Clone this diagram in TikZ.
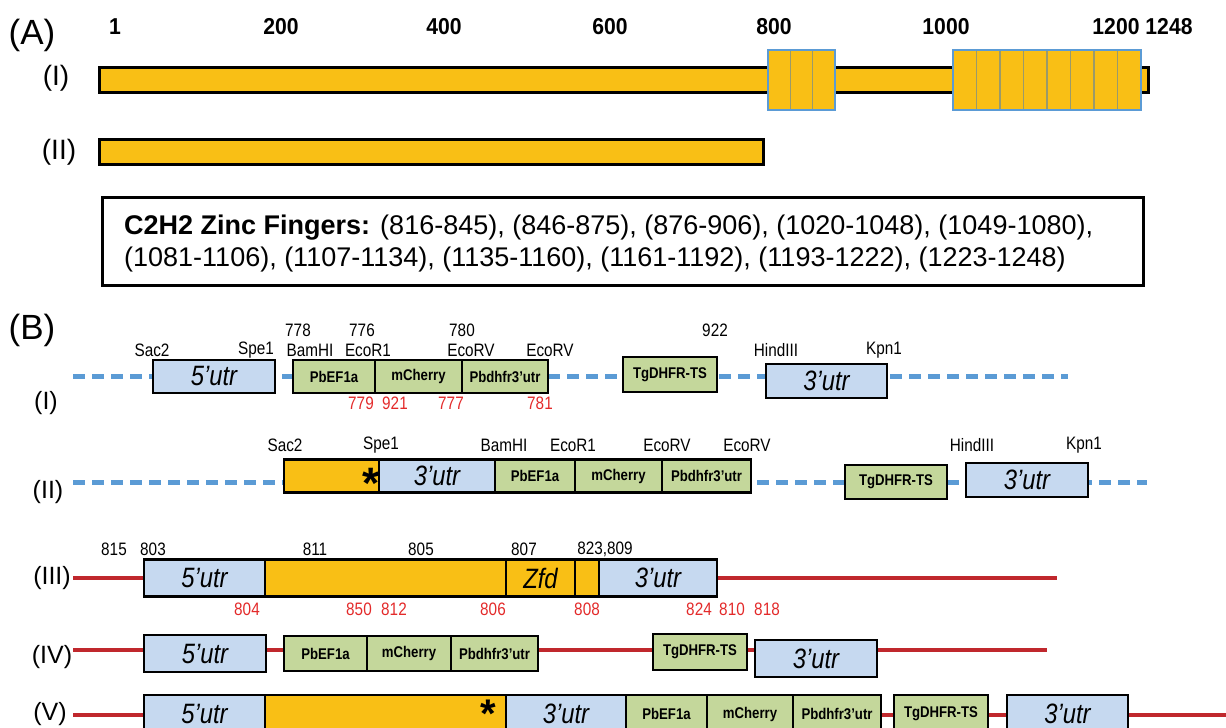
\documentclass[tikz,border=0pt]{standalone}
\usepackage{fontspec}
\setmainfont{Liberation Sans}
\newfontfamily\narrowfont[FakeStretch=0.85]{Liberation Sans}
\newfontfamily\rulerfont[FakeStretch=0.92]{Liberation Sans}
\usetikzlibrary{positioning}
\pgfdeclarelayer{bg}
\pgfsetlayers{bg,main}
\definecolor{GeneGold}{HTML}{F9BF15}
\definecolor{UtrBlue}{HTML}{C6D9F0}
\definecolor{CasGreen}{HTML}{C4D79B}
\definecolor{VecBlue}{HTML}{5B9BD5}
\definecolor{GenoRed}{HTML}{C0282D}
\definecolor{PrimRed}{HTML}{E32A2A}
\definecolor{ZfGrey}{HTML}{9A9A6A}
\tikzset{seg/.style={draw=black,line width=2.6pt,anchor=west,inner sep=0pt,outer sep=0pt,minimum height=33pt},
utr/.style={seg,fill=UtrBlue,font=\fontsize{28}{28}\narrowfont\itshape},
cas/.style={seg,fill=CasGreen,font=\fontsize{15.5}{15.5}\narrowfont\bfseries},
orf/.style={seg,fill=GeneGold},
site/.style={font=\fontsize{18}{18}\narrowfont,inner sep=0pt},
prim/.style={site,text=PrimRed},
tag/.style={font=\fontsize{25}{25}\selectfont,inner sep=0pt},
ruler/.style={font=\fontsize{23}{23}\rulerfont\bfseries,inner sep=0pt},
bar/.style={draw=black,line width=3pt,fill=GeneGold,anchor=west,inner sep=0pt,outer sep=0pt,minimum height=25pt},
zf/.style={draw=VecBlue,line width=2.5pt,fill=GeneGold,anchor=west,inner sep=0pt,outer sep=0pt,minimum height=60pt},
zfline/.style={ZfGrey,line width=1.5pt,shorten <=1.25pt,shorten >=1.25pt},
zftext/.style={font=\fontsize{27}{27}\selectfont,anchor=west,inner sep=0pt},
stopstar/.style={font=\fontsize{44}{44}\selectfont\bfseries,inner sep=0pt,yshift=-9pt},
vec/.style={VecBlue,line width=5pt,dash pattern=on 12pt off 7pt},
geno/.style={GenoRed,line width=4pt}}

\begin{document}
\begin{tikzpicture}[x=1pt,y=-1pt]
\useasboundingbox (0,0) rectangle (1226,728);
% (A) protein
\node[font=\fontsize{35}{35}\selectfont,inner sep=0pt] (labA) at (32,35) {(A)};
\foreach \x/\n in {115/1,281/200,444/400,610/600,774/800,946/1000,1116/1200,1169/1248}
  \node[ruler] (r\n) at (\x,27) {\n};
\node[tag,font=\fontsize{28}{28}\selectfont] (pI) at (56,78) {(I)};
\node[tag,font=\fontsize{28}{28}\selectfont] (pII) at (59,152) {(II)};
\node[bar,minimum width=1049pt] (barI) at (99,80) {};
\node[zf,minimum width=67pt] (zfa) at (768,80) {};
\node[zf,minimum width=188pt] (zfb) at (953,80) {};
\foreach \i in {1,2}
  \draw[zfline] ([xshift=\i*22.33pt]zfa.north west) -- ([xshift=\i*22.33pt]zfa.south west);
\foreach \i in {1,...,7}
  \draw[zfline] ([xshift=\i*23.5pt]zfb.north west) -- ([xshift=\i*23.5pt]zfb.south west);
\node[bar,minimum width=664pt] (barII) at (99,152) {};
\node[draw=black,line width=3pt,anchor=north west,inner sep=0pt,minimum width=1041pt,minimum height=88pt] (zfbox) at (101,196) {};
\node[zftext] (zf1) at (124,228) {\textbf{C2H2 Zinc Fingers:} (816-845), (846-875), (876-906), (1020-1048), (1049-1080),};
\node[zftext] (zf2) at (124,260) {(1081-1106), (1107-1134), (1135-1160), (1161-1192), (1193-1222), (1223-1248)};
% (B) constructs
\node[font=\fontsize{35}{35}\selectfont,inner sep=0pt] (labB) at (32,330) {(B)};
% row I
\node[tag] (tI) at (46,403) {(I)};
\node[utr,minimum width=122pt] (I5) at (153,376.5) {5’utr};
\node[cas,minimum width=82pt] (IPb) at (293,376.5) {PbEF1a};
\node[cas,minimum width=87pt,right=0pt of IPb] (IMc) {mCherry};
\node[cas,minimum width=86pt,right=0pt of IMc] (IDh) {Pbdhfr3’utr};
\node[cas,minimum width=94pt,minimum height=35pt] (ITg) at (623,374.5) {TgDHFR-TS};
\node[utr,minimum width=121pt,minimum height=34pt] (I3) at (766,381) {3’utr};
\coordinate (Ia) at (73,376);
\coordinate (Ib) at (1068,376);
\foreach \x/\y/\t [count=\k] in {298/330/778,362/330/776,462/330/780,715/330/922,
  152/350/Sac2,256/350/Spe1,310/350/BamHI,368/350/EcoR1,471/350/EcoRV,550/350/EcoRV,776/350/HindIII,884/350/Kpn1}
  \node[site] (sI\k) at (\x,\y) {\t};
\foreach \x/\t [count=\k] in {361/779,395/921,451/777,540/781}
  \node[prim] (pI\k) at (\x,403) {\t};
% row II
\node[tag] (tII) at (48,492) {(II)};
\node[orf,minimum width=95pt] (IIg) at (284,476) {};
\node[utr,minimum width=116pt,right=0pt of IIg] (II3) {3’utr};
\node[cas,minimum width=80pt,right=0pt of II3] (IIPb) {PbEF1a};
\node[cas,minimum width=87pt,right=0pt of IIPb] (IIMc) {mCherry};
\node[cas,minimum width=89pt,right=0pt of IIMc] (IIDh) {Pbdhfr3’utr};
\node[cas,minimum width=102pt,minimum height=34pt] (IITg) at (845,482) {TgDHFR-TS};
\node[utr,minimum width=122pt,minimum height=34pt] (II3b) at (966,480) {3’utr};
\node[stopstar] (IIs) at (371,474) {*};
\coordinate (IIa) at (73,482);
\coordinate (IIb) at (1147,482);
\foreach \x/\t [count=\k] in {285/Sac2,381/Spe1,504/BamHI,573/EcoR1,667/EcoRV,747/EcoRV,972/HindIII,1084/Kpn1}
  \node[site] (sII\k) at (\x,445) {\t};
% row III
\node[tag] (tIII) at (52,578) {(III)};
\node[utr,minimum width=121pt,minimum height=37pt] (III5) at (144,578) {5’utr};
\node[orf,minimum width=241pt,minimum height=37pt,right=0pt of III5] (IIIg) {};
\node[orf,minimum width=69pt,minimum height=37pt,right=0pt of IIIg,font=\fontsize{28}{28}\narrowfont\itshape] (IIIz) {Zfd};
\node[orf,minimum width=24pt,minimum height=37pt,right=0pt of IIIz] (IIIk) {};
\node[utr,minimum width=118pt,minimum height=37pt,right=0pt of IIIk] (III3) {3’utr};
\coordinate (IIIa) at (73,578);
\coordinate (IIIb) at (1057,578);
\foreach \x/\t [count=\k] in {114/815,153/803,315/811,421/805,524/807,605/{823,809}}
  \node[site] (sIII\k) at (\x,549) {\t};
\foreach \x/\t [count=\k] in {247/804,359/850,394/812,493/806,587/808,699/824,732/810,767/818}
  \node[prim] (pIII\k) at (\x,609) {\t};
% row IV
\node[tag] (tIV) at (52,657) {(IV)};
\node[utr,minimum width=122pt,minimum height=37pt] (IV5) at (144,653.5) {5’utr};
\node[cas,minimum width=83pt,minimum height=35pt] (IVPb) at (284,653.5) {PbEF1a};
\node[cas,minimum width=84pt,minimum height=35pt,right=0pt of IVPb] (IVMc) {mCherry};
\node[cas,minimum width=87pt,minimum height=35pt,right=0pt of IVMc] (IVDh) {Pbdhfr3’utr};
\node[cas,minimum width=94pt,minimum height=36pt] (IVTg) at (653,652) {TgDHFR-TS};
\node[utr,minimum width=122pt,minimum height=37pt] (IV3) at (755,658.5) {3’utr};
\coordinate (IVa) at (73,650);
\coordinate (IVb) at (1047,650);
% row V
\node[tag] (tV) at (50,714) {(V)};
\node[utr,minimum width=121pt,minimum height=38pt] (V5) at (144,714) {5’utr};
\node[orf,minimum width=241pt,minimum height=38pt,right=0pt of V5] (Vg) {};
\node[utr,minimum width=120pt,minimum height=38pt,right=0pt of Vg] (V3) {3’utr};
\node[cas,minimum width=81pt,minimum height=38pt,right=0pt of V3] (VPb) {PbEF1a};
\node[cas,minimum width=86pt,minimum height=38pt,right=0pt of VPb] (VMc) {mCherry};
\node[cas,minimum width=88pt,minimum height=38pt,right=0pt of VMc] (VDh) {Pbdhfr3’utr};
\node[cas,minimum width=94pt,minimum height=38pt] (VTg) at (894,714) {TgDHFR-TS};
\node[utr,minimum width=121pt,minimum height=38pt] (V3b) at (1007,714) {3’utr};
\node[stopstar,font=\fontsize{40}{40}\selectfont\bfseries] (Vs) at (488,705) {*};
\coordinate (Va) at (73,715);
\coordinate (Vb) at (1226,715);
\begin{pgfonlayer}{bg}
\draw[vec] (Ia) -- (Ib);
\draw[vec] (IIa) -- (IIb);
\draw[geno] (IIIa) -- (IIIb);
\draw[geno] (IVa) -- (IVb);
\draw[geno] (Va) -- (Vb);
\end{pgfonlayer}
\end{tikzpicture}
\end{document}
